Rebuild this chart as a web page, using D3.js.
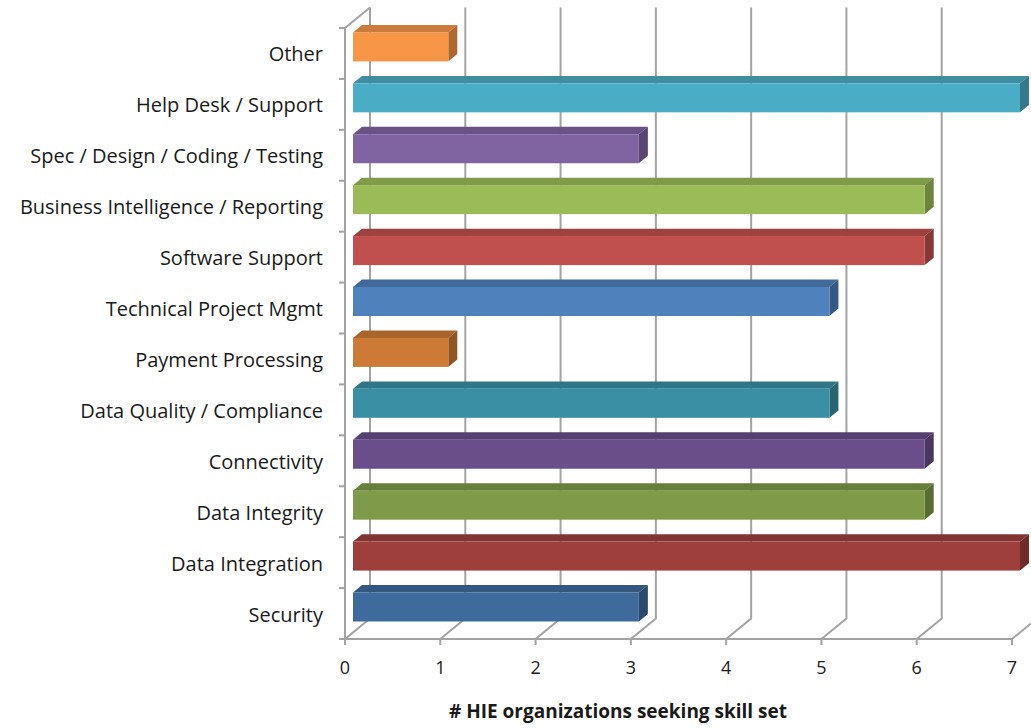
<!DOCTYPE html>
<meta charset="utf-8">
<style>
    body { margin: 0; background: #fff; }
    text { font-family: "Open Sans", sans-serif; fill: #1a1a1a; }
    .cat { font-size: 20px; text-anchor: end; }
    .tick-label { font-size: 18px; text-anchor: middle; }
    .title { font-size: 19px; font-weight: bold; text-anchor: middle; }
    .grid { stroke: #a3a3a3; stroke-width: 2px; fill: none; }
</style>
<svg width="1031" height="728"></svg>
<script src="https://d3js.org/d3.v7.min.js"></script>
<script>
    // categories listed bottom to top, as in the chart
    var categories = ["Security", "Data Integration", "Data Integrity", "Connectivity",
        "Data Quality / Compliance", "Payment Processing", "Technical Project Mgmt",
        "Software Support", "Business Intelligence / Reporting",
        "Spec / Design / Coding / Testing", "Help Desk / Support", "Other"];
    var values = [3, 7, 6, 6, 5, 1, 5, 6, 6, 3, 7, 1];
    var colors = ["#3f6a9c", "#9e3f3d", "#7f9a48", "#694e89", "#3b8fa5", "#cc7a35",
        "#4f81bd", "#c0504d", "#9bbb59", "#8064a2", "#4bacc6", "#f79646"];
    var xTicks = [0, 1, 2, 3, 4, 5, 6, 7];
    var xTitle = "# HIE organizations seeking skill set";

    var svg = d3.select("svg");

    // front plane geometry, plus the depth vector of the 3d box
    var depthX = 25, depthY = -20.5;
    var barFront = 0.32, barBack = 0.68;

    var x = d3.scaleLinear().domain([0, 7]).range([345, 1012]);
    var y = d3.scaleBand()
            .domain(categories.slice().reverse())
            .range([28, 639])
            .paddingInner(0.43)
            .paddingOuter(0.215);

    var floorY = 639, topY = 28;

    function p(px, py, d) {
        return [px + depthX * d, py + depthY * d];
    }

    var line = d3.line();

    // back wall gridlines + floor diagonals
    var g = svg.append("g");
    xTicks.forEach(function(t) {
        g.append("path").attr("class", "grid")
                .attr("d", line([p(x(t), floorY, 0), p(x(t), floorY, 1), p(x(t), topY, 1)]));
    });
    // left wall
    g.append("path").attr("class", "grid")
            .attr("d", line([p(x(0), floorY, 0), p(x(0), topY, 0), p(x(0), topY, 1)]));
    // floor front edge
    g.append("path").attr("class", "grid")
            .attr("d", line([[x(0), floorY], [x(7), floorY]]));

    // x ticks
    xTicks.forEach(function(t) {
        g.append("path").attr("class", "grid")
                .attr("d", line([[x(t), floorY], [x(t), floorY + 6]]));
    });
    svg.append("g").selectAll("text")
            .data(xTicks)
            .enter().append("text")
            .attr("class", "tick-label")
            .attr("x", function(d) { return x(d); })
            .attr("y", 674)
            .text(function(d) { return d; });

    // category ticks on left wall at band boundaries
    var step = y.step();
    d3.range(categories.length + 1).forEach(function(i) {
        var yy = topY + i * step;
        g.append("path").attr("class", "grid")
                .attr("d", line([[x(0) - 6, yy], [x(0), yy]]));
    });

    // category labels
    svg.append("g").selectAll("text")
            .data(categories)
            .enter().append("text")
            .attr("class", "cat")
            .attr("x", 323)
            .attr("y", function(d) { return y(d) + y.bandwidth() / 2 + 8; })
            .text(function(d) { return d; });

    // bars
    var bars = svg.append("g").selectAll("g")
            .data(categories.map(function(c, i) { return {name: c, value: values[i], color: colors[i]}; }))
            .enter().append("g");

    bars.each(function(d) {
        var sel = d3.select(this);
        var y0 = y(d.name), y1 = y(d.name) + y.bandwidth();
        var x0 = x(0), x1 = x(d.value);
        var base = d3.color(d.color);

        // top face
        sel.append("path")
                .attr("d", line([p(x0, y0, barFront), p(x1, y0, barFront), p(x1, y0, barBack), p(x0, y0, barBack)]) + "Z")
                .attr("fill", base.darker(0.55));
        // side face
        sel.append("path")
                .attr("d", line([p(x1, y0, barFront), p(x1, y0, barBack), p(x1, y1, barBack), p(x1, y1, barFront)]) + "Z")
                .attr("fill", base.darker(1));
        // front face
        var f0 = p(x0, y0, barFront), f1 = p(x1, y1, barFront);
        sel.append("rect")
                .attr("x", f0[0])
                .attr("y", f0[1])
                .attr("width", f1[0] - f0[0])
                .attr("height", f1[1] - f0[1])
                .attr("fill", base);
    });

    svg.append("text")
            .attr("class", "title")
            .attr("x", 618)
            .attr("y", 718)
            .text(xTitle);
</script>
